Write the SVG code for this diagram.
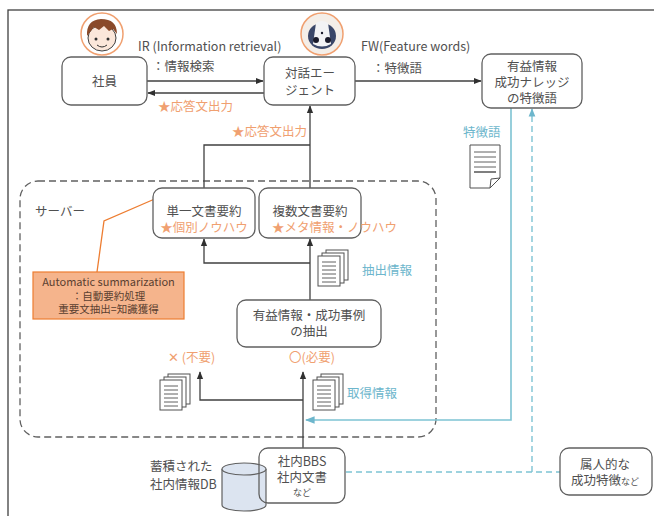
<svg xmlns="http://www.w3.org/2000/svg" width="654" height="516" viewBox="0 0 654 516">
  <style>
    text { font-family: "Noto Sans CJK JP", "Noto Sans", "Liberation Sans", sans-serif; font-size: 12.5px; fill: #505050; }
    .c { text-anchor: middle; }
    .org { fill: #F0A070; }
    .blu { fill: #6DB6CC; }
    .box { fill: #ffffff; stroke: #606060; stroke-width: 1.3; }
    .ln { fill: none; stroke: #404040; stroke-width: 1.3; }
    .bl { fill: none; stroke: #7EC3D3; stroke-width: 1.6; }
    .bd { fill: none; stroke: #7EC3D3; stroke-width: 1.4; stroke-dasharray: 6 4; }
    .pg { fill: #ffffff; stroke: #505050; stroke-width: 1; }
    .pl { stroke: #606060; stroke-width: 1; }
    .sm { font-size: 9px; }
  </style>
  <defs>
    <marker id="ah" viewBox="0 0 10 10" refX="9" refY="5" markerWidth="6" markerHeight="6" orient="auto">
      <path d="M0,1 L10,5 L0,9 z" fill="#303030"/>
    </marker>
    <marker id="ahb" viewBox="0 0 10 10" refX="9" refY="5" markerWidth="6" markerHeight="6" orient="auto">
      <path d="M0,1 L10,5 L0,9 z" fill="#6DB6CC"/>
    </marker>
    <!-- a stack of three pages -->
    <g id="stack">
      <rect class="pg" x="8" y="0" width="22" height="30"/>
      <rect class="pg" x="4" y="3" width="22" height="30"/>
      <rect class="pg" x="0" y="6" width="22" height="30"/>
      <g class="pl">
        <line x1="4" y1="12" x2="18" y2="12"/>
        <line x1="4" y1="16" x2="18" y2="16"/>
        <line x1="4" y1="20" x2="18" y2="20"/>
        <line x1="4" y1="24" x2="18" y2="24"/>
        <line x1="4" y1="28" x2="18" y2="28"/>
        <line x1="4" y1="32" x2="18" y2="32"/>
      </g>
    </g>
  </defs>

  <!-- outer frame -->
  <rect x="8" y="10" width="660" height="520" fill="#ffffff" stroke="#404040" stroke-width="1.3"/>

  <!-- server region -->
  <g id="server">
    <rect x="20" y="181" width="416" height="256" rx="18" fill="none" stroke="#606060" stroke-width="1.3" stroke-dasharray="7 4"/>
    <text x="35" y="216">サーバー</text>
  </g>

  <!-- connectors -->
  <g id="connectors">
    <line class="ln" x1="147" y1="81" x2="263" y2="81" marker-end="url(#ah)"/>
    <line class="ln" x1="264" y1="93" x2="148" y2="93" marker-end="url(#ah)"/>
    <line class="ln" x1="355" y1="81" x2="481" y2="81" marker-end="url(#ah)"/>
    <path class="ln" d="M310,188 V106" marker-end="url(#ah)"/>
    <path class="ln" d="M204,188 V145 H310"/>
    <path class="ln" d="M310,300 V239" marker-end="url(#ah)"/>
    <path class="ln" d="M310,263 H204 V239" marker-end="url(#ah)"/>
    <path class="ln" d="M303,448 V372" marker-end="url(#ah)"/>
    <path class="ln" d="M303,400 H200 V372" marker-end="url(#ah)"/>
    <path class="bl" d="M511,108 V420 H306" marker-end="url(#ahb)"/>
    <path class="bd" d="M346,472 H560"/>
    <path class="bd" d="M532,472 V109" marker-end="url(#ahb)"/>
    <!-- callout leader -->
    <polyline points="157,198 104,221 97,272" fill="none" stroke="#ED7D31" stroke-width="1.3"/>
    <circle cx="157" cy="198" r="2.5" fill="#ED7D31"/>
  </g>

  <!-- connector labels -->
  <g id="labels">
    <text x="138" y="51">IR (Information retrieval)</text>
    <text x="152" y="71">：情報検索</text>
    <text x="158" y="111" class="org">★応答文出力</text>
    <text x="232" y="136" class="org">★応答文出力</text>
    <text x="361" y="51">FW(Feature words)</text>
    <text x="372" y="73">：特徴語</text>
    <text x="463" y="137" class="blu">特徴語</text>
    <text x="362" y="275" class="blu">抽出情報</text>
    <text x="347" y="398" class="blu">取得情報</text>
    <text x="168" y="362" class="org">✕ (不要)</text>
    <text x="289" y="362" class="org">〇(必要)</text>
    <text x="150" y="471">蓄積された</text>
    <text x="150" y="489">社内情報DB</text>
  </g>

  <!-- person icon -->
  <g id="icon-person">
    <circle cx="102" cy="34" r="21" fill="#ffffff" stroke="#F0A070" stroke-width="1.5"/>
    <ellipse cx="102" cy="38" rx="14" ry="13" fill="#FBE7DA" stroke="#404040" stroke-width="1"/>
    <path d="M87,36 Q86,20 101,19 Q117,19 117,34 L113,29 L109,31 L104,26 L99,30 L94,27 L90,32 Z" fill="#8A4A2A"/>
    <circle cx="96" cy="39" r="1.5" fill="#303030"/>
    <circle cx="108" cy="39" r="1.5" fill="#303030"/>
    <path d="M97,45 Q102,49 107,45" fill="none" stroke="#303030" stroke-width="1"/>
  </g>

  <!-- robot icon -->
  <g id="icon-robot">
    <circle cx="322" cy="34" r="21" fill="#F4EEE8" stroke="#F0A070" stroke-width="1.5"/>
    <ellipse cx="322" cy="36" rx="14" ry="13" fill="#3A4668"/>
    <path d="M316,23 Q322,19 328,23 L331,44 Q322,49 313,44 Z" fill="#F2F2F4"/>
    <circle cx="316" cy="40" r="3" fill="#1A1A2A"/>
    <circle cx="328" cy="40" r="3" fill="#1A1A2A"/>
    <circle cx="322" cy="33" r="1.2" fill="#1A1A2A"/>
  </g>

  <g id="node-shain">
    <rect class="box" x="62" y="57" width="85" height="48" rx="9"/>
    <text x="104.5" y="86" class="c">社員</text>
  </g>

  <g id="node-agent">
    <rect class="box" x="264" y="57" width="91" height="48" rx="9"/>
    <text x="310" y="78" class="c">対話エー</text>
    <text x="310" y="95" class="c">ジェント</text>
  </g>

  <g id="node-features">
    <rect class="box" x="482" y="54" width="100" height="54" rx="9"/>
    <text x="532" y="71" class="c">有益情報</text>
    <text x="532" y="87" class="c">成功ナレッジ</text>
    <text x="532" y="103" class="c">の特徴語</text>
  </g>

  <g id="doc-feature">
    <path d="M470,145 H500 V178 L490,188 H470 Z" fill="#ffffff" stroke="#505050" stroke-width="1"/>
    <path d="M490,188 L491,179 L500,178" fill="none" stroke="#505050" stroke-width="1"/>
    <g class="pl">
      <line x1="474" y1="152" x2="496" y2="152"/>
      <line x1="474" y1="157" x2="496" y2="157"/>
      <line x1="474" y1="162" x2="496" y2="162"/>
      <line x1="474" y1="167" x2="496" y2="167"/>
      <line x1="474" y1="172" x2="496" y2="172" stroke-width="1.6"/>
    </g>
  </g>

  <g id="node-single">
    <rect class="box" x="153" y="188" width="102" height="50" rx="9"/>
    <text x="204" y="216" class="c">単一文書要約</text>
    <text x="204" y="232" class="c org">★個別ノウハウ</text>
  </g>

  <g id="node-multi">
    <rect class="box" x="259" y="188" width="102" height="50" rx="9"/>
    <text x="310" y="216" class="c">複数文書要約</text>
    <text x="272" y="232" class="org">★メタ情報・ノウハウ</text>
  </g>

  <g id="callout">
    <rect x="33" y="272" width="151" height="47" fill="#F5B48C" stroke="#ED7D31" stroke-width="1.2"/>
    <text x="108.5" y="286" class="c" style="font-size:11px;fill:#5A4030">Automatic summarization</text>
    <text x="108.5" y="300" class="c" style="font-size:10.5px;fill:#5A4030">：自動要約処理</text>
    <text x="108.5" y="313" class="c" style="font-size:10.5px;fill:#5A4030">重要文抽出=知識獲得</text>
  </g>

  <use href="#stack" x="318" y="250"/>

  <g id="node-extract">
    <rect class="box" x="237" y="300" width="144" height="47" rx="9"/>
    <text x="309" y="320" class="c">有益情報・成功事例</text>
    <text x="309" y="336" class="c">の抽出</text>
  </g>

  <use href="#stack" x="160" y="374"/>
  <use href="#stack" x="313" y="374"/>

  <g id="db">
    <path d="M222,469 V505 A22,6 0 0 0 266,505 V469" fill="#DCE4F0" stroke="#606060" stroke-width="1.2"/>
    <ellipse cx="244" cy="469" rx="22" ry="6" fill="#DCE4F0" stroke="#606060" stroke-width="1.2"/>
  </g>

  <g id="node-bbs">
    <rect class="box" x="259" y="448" width="86" height="55" rx="9" style="fill:none"/>
    <text x="302" y="466" class="c">社内BBS</text>
    <text x="302" y="482" class="c">社内文書</text>
    <text x="302" y="496" class="c sm">など</text>
  </g>

  <g id="node-personal">
    <rect class="box" x="560" y="448" width="92" height="47" rx="9"/>
    <text x="605" y="469" class="c">属人的な</text>
    <text x="571" y="485"><tspan>成功特徴</tspan><tspan class="sm">など</tspan></text>
  </g>
</svg>
